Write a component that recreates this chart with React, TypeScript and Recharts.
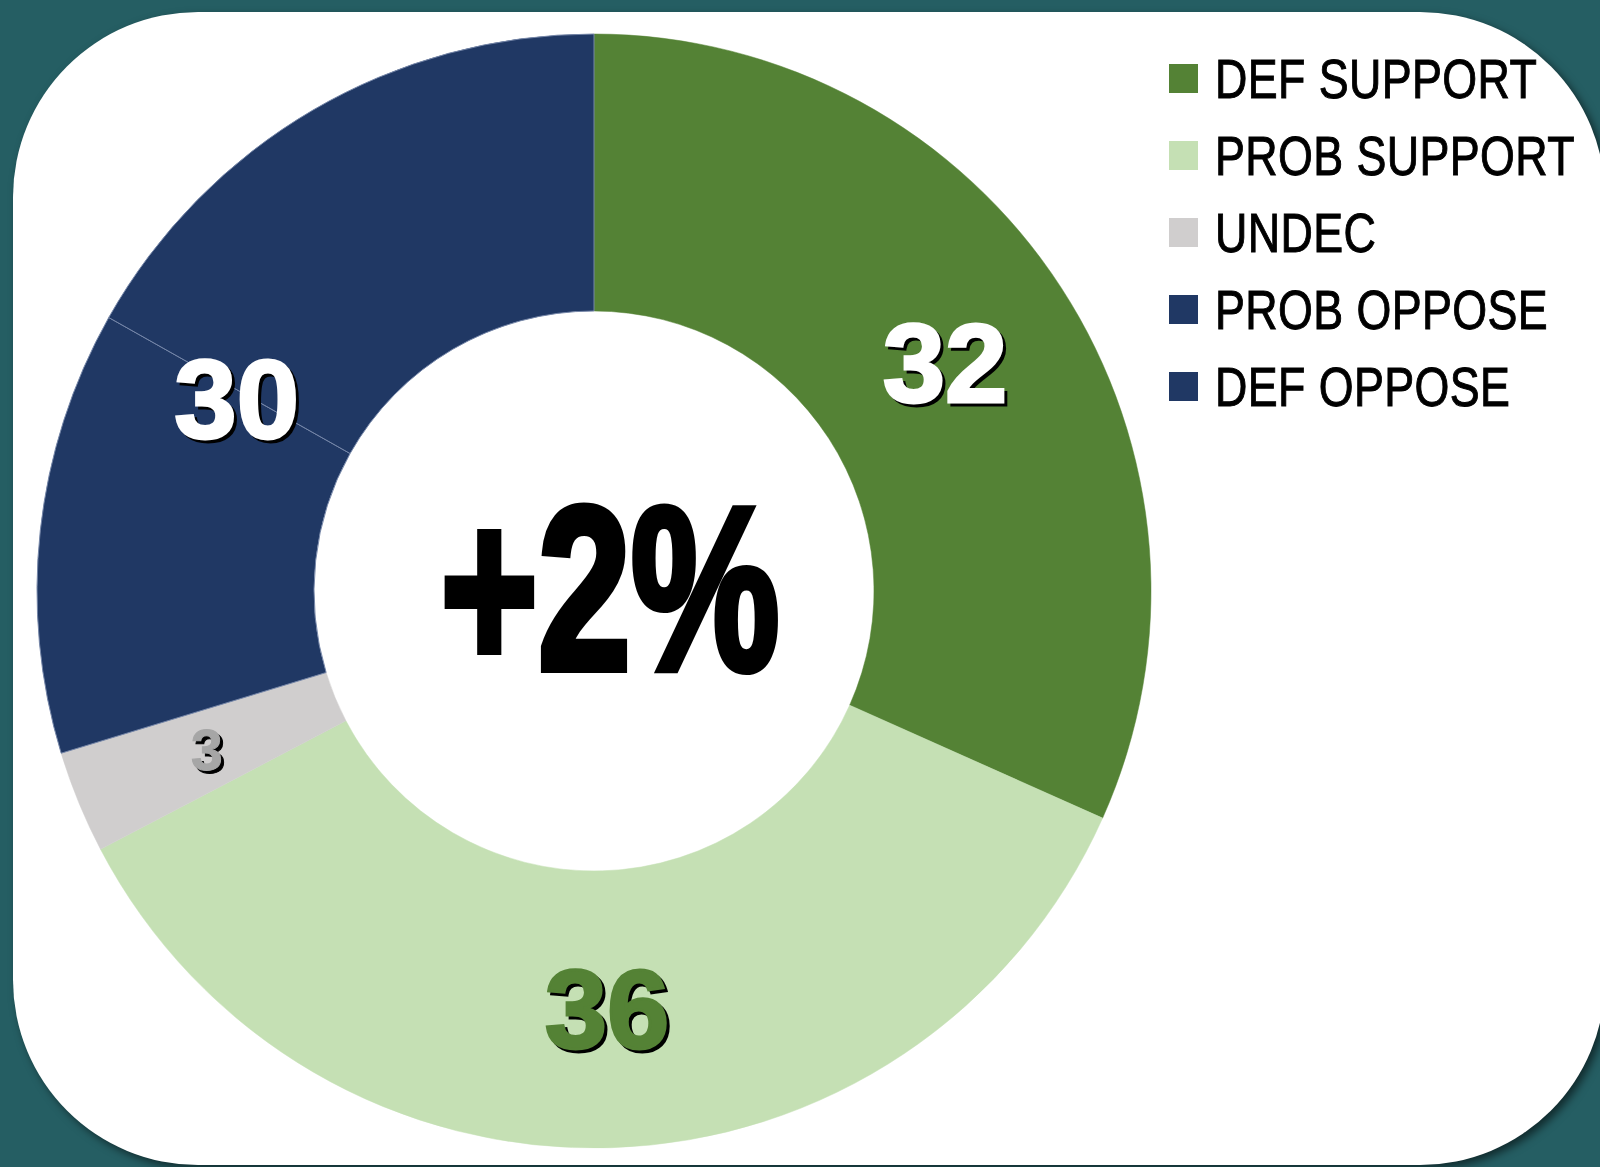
import React from 'react';
import { PieChart, Pie, Cell, Legend, Label } from 'recharts';

const categories = ['DEF SUPPORT', 'PROB SUPPORT', 'UNDEC', 'PROB OPPOSE', 'DEF OPPOSE'];
const values = [32, 36, 3, 13, 17];
const colors = ['#548235', '#C5E0B4', '#D0CECE', '#203864', '#203864'];
// shown numbers: the two oppose slices share one total label
const sliceLabels = ['32', '36', '3', '', '30'];
const netLabel = '+2%';

const data = categories.map((name, i) => ({ name, value: values[i] }));

const W = 1600;
const H = 1167;
const CX = 589;
const CY = 586;
const OUTER = 557;
const INNER = 280;
const RAD = Math.PI / 180;

const labelStyle = [
  { fill: '#FFFFFF', size: 112 },
  { fill: '#548235', size: 112 },
  { fill: '#A6A6A6', size: 57 },
  { fill: '#FFFFFF', size: 112 },
  { fill: '#FFFFFF', size: 112 },
];

const renderSliceLabel = (props: any) => {
  const { cx, cy, midAngle, startAngle, innerRadius, outerRadius, index } = props;
  const text = sliceLabels[index];
  if (!text) return null;
  const st = labelStyle[index];
  // total oppose label sits on the boundary of the two blue slices
  const angle = index === 4 ? startAngle + 1.2 : midAngle;
  const r = index === 4 ? (innerRadius + outerRadius) / 2 - 13 : (innerRadius + outerRadius) / 2;
  const x = cx + r * Math.cos(-angle * RAD);
  const y = cy + r * Math.sin(-angle * RAD);
  const sw = st.size > 80 ? 3 : 1;
  return (
    <g>
      <text x={x + 3} y={y + 3} textAnchor="middle" dominantBaseline="central"
        fontFamily="'Liberation Sans', Arial, sans-serif" fontWeight="bold" fontSize={st.size}
        fill="#000" stroke="#000" strokeWidth={sw}>
        {text}
      </text>
      <text x={x} y={y} textAnchor="middle" dominantBaseline="central"
        fontFamily="'Liberation Sans', Arial, sans-serif" fontWeight="bold" fontSize={st.size}
        fill={st.fill} stroke={st.fill} strokeWidth={sw}>
        {text}
      </text>
    </g>
  );
};

const renderCenter = () => (
  <g transform={`translate(${CX + 21}, ${CY + 83}) scale(0.72, 1)`}>
    <text x={0} y={0} textAnchor="middle"
      fontFamily="'Liberation Sans', Arial, sans-serif" fontWeight="bold" fontSize={232}
      fill="#000" stroke="#000" strokeWidth={8} strokeLinejoin="miter">
      {netLabel}
    </text>
  </g>
);

const renderLegend = () => (
  <div style={{ display: 'flex', flexDirection: 'column' }}>
    {categories.map((c, i) => (
      <div key={c} style={{ display: 'flex', alignItems: 'center', height: 77 }}>
        <span style={{
          width: 29, height: 29, background: colors[i], display: 'inline-block',
          marginRight: 17, flexShrink: 0,
        }} />
        <span style={{
          fontFamily: "'Liberation Sans', Arial, sans-serif", fontSize: 56, color: '#000',
          display: 'inline-block', transform: 'scaleX(0.8)', transformOrigin: 'left center',
          whiteSpace: 'nowrap', lineHeight: '77px', letterSpacing: 0.5, flexShrink: 0,
          WebkitTextStroke: '1px #000',
        }}>
          {c}
        </span>
      </div>
    ))}
  </div>
);

const App = () => {
  return (
    <div style={{ position: 'absolute', left: 0, top: 0, width: W, height: H, background: '#255E63', overflow: 'hidden' }}>
      <div style={{
        position: 'absolute', left: 13, top: 12, width: 1592, height: 1153,
        background: '#fff', borderRadius: 185, boxShadow: '4px 4px 8px rgba(0,0,0,0.55)',
      }} />
      <div style={{ position: 'absolute', left: 0, top: 0 }}>
        <PieChart width={W} height={H}>
          <Pie
            data={data}
            dataKey="value"
            nameKey="name"
            cx={CX}
            cy={CY}
            innerRadius={INNER}
            outerRadius={OUTER}
            startAngle={90}
            endAngle={-270}
            label={renderSliceLabel}
            labelLine={false}
            isAnimationActive={false}
          >
            {data.map((d, i) => (
              <Cell key={d.name} fill={colors[i]}
                stroke={i >= 3 ? '#7586a8' : colors[i]} strokeWidth={i >= 3 ? 1 : 0.5} />
            ))}
            <Label position="center" content={renderCenter} />
          </Pie>
          <Legend
            content={renderLegend}
            layout="vertical"
            wrapperStyle={{ position: 'absolute', left: 1169, top: 40, width: 600 }}
          />
        </PieChart>
      </div>
    </div>
  );
};

export default App;
